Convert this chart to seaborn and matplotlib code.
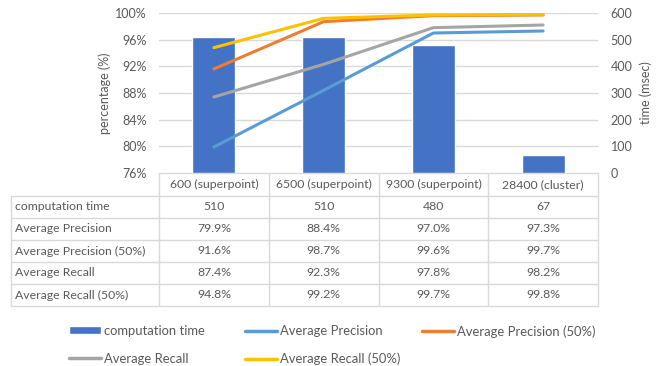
import matplotlib
matplotlib.use("Agg")
import matplotlib.pyplot as plt
from matplotlib.patches import Patch
from matplotlib.lines import Line2D
import seaborn as sns
import pandas as pd

categories = ["600 (superpoint)", "6500 (superpoint)", "9300 (superpoint)", "28400 (cluster)"]
computation_time = [510, 510, 480, 67]
avg_precision = [79.9, 88.4, 97.0, 97.3]
avg_precision_50 = [91.6, 98.7, 99.6, 99.7]
avg_recall = [87.4, 92.3, 97.8, 98.2]
avg_recall_50 = [94.8, 99.2, 99.7, 99.8]

series_names = ["Average Precision", "Average Precision (50%)", "Average Recall", "Average Recall (50%)"]
series_values = [avg_precision, avg_precision_50, avg_recall, avg_recall_50]
series_colors = ["#5B9BD5", "#ED7D31", "#A5A5A5", "#FFC000"]
bar_color = "#4472C4"
text_color = "#595959"
grid_color = "#D9D9D9"

sns.set_theme(style="white")
plt.rcParams["font.family"] = ["Lato", "DejaVu Sans"]

W, H = 661, 366
fig = plt.figure(figsize=(W / 100, H / 100), dpi=100)

# plot area in pixel terms
x0, x1, y_top, y_bot = 159, 598, 13, 173
ax_t = fig.add_axes([x0 / W, 1 - y_bot / H, (x1 - x0) / W, (y_bot - y_top) / H])
ax_p = ax_t.twinx()

# bars: computation time (right axis)
df_bar = pd.DataFrame({"category": categories, "time": computation_time})
sns.barplot(data=df_bar, x="category", y="time", color=bar_color, width=0.39,
            saturation=1, ax=ax_t, zorder=2)
ax_t.set_ylim(0, 600)
ax_t.set_yticks(range(0, 601, 100))
ax_t.yaxis.tick_right()
ax_t.yaxis.set_label_position("right")
ax_t.set_ylabel("time (msec)", color=text_color, fontsize=9, labelpad=5)
ax_t.grid(axis="y", color=grid_color, lw=1, zorder=0)
ax_t.set_axisbelow(True)

# lines: percentages (left axis)
df_lines = pd.DataFrame({
    "category": [c for _ in series_names for c in categories],
    "value": [v for vals in series_values for v in vals],
    "series": [n for n in series_names for _ in categories],
})
sns.lineplot(data=df_lines, x="category", y="value", hue="series",
             hue_order=series_names, palette=series_colors, lw=2.2,
             legend=False, ax=ax_p, sort=False)
ax_p.set_ylim(76, 100)
ax_p.set_yticks(range(76, 101, 4))
ax_p.set_yticklabels([f"{v}%" for v in range(76, 101, 4)])
ax_p.yaxis.tick_left()
ax_p.yaxis.set_label_position("left")
ax_p.set_ylabel("percentage (%)", color=text_color, fontsize=9, labelpad=3)

for a in (ax_t, ax_p):
    a.set_xlim(-0.5, len(categories) - 0.5)
    a.set_xlabel("")
    a.set_xticks([])
    a.tick_params(axis="y", length=0, pad=9, labelsize=9, labelcolor=text_color)
    for s in a.spines.values():
        s.set_visible(False)

# data table beneath the plot
tab = fig.add_axes([0, 0, 1, 1], zorder=-1)
tab.set_xlim(0, W)
tab.set_ylim(H, 0)
tab.axis("off")

col_edges = [x0 + (x1 - x0) * i / len(categories) for i in range(len(categories) + 1)]
left_edge = 11
row_edges = [y_bot, 196, 218, 240, 262, 284, 306]
row_labels = ["computation time"] + series_names
row_cells = [[str(v) for v in computation_time]] + [[f"{v:.1f}%" for v in vals] for vals in series_values]

line_kw = dict(color=grid_color, lw=1)
tab.plot([x0, x1], [row_edges[0], row_edges[0]], **line_kw)
for xe in col_edges:
    tab.plot([xe, xe], [row_edges[0], row_edges[-1]], **line_kw)
tab.plot([left_edge, left_edge], [row_edges[1], row_edges[-1]], **line_kw)
for ye in row_edges[1:]:
    tab.plot([left_edge, x1], [ye, ye], **line_kw)

for i, cat in enumerate(categories):
    cx = (col_edges[i] + col_edges[i + 1]) / 2
    tab.text(cx, (row_edges[0] + row_edges[1]) / 2, cat, ha="center", va="center",
             fontsize=8.8, color=text_color)
for r, (lab, cells) in enumerate(zip(row_labels, row_cells)):
    cy = (row_edges[r + 1] + row_edges[r + 2]) / 2
    tab.text(left_edge + 4, cy, lab, ha="left", va="center", fontsize=8.8, color=text_color)
    for i, val in enumerate(cells):
        cx = (col_edges[i] + col_edges[i + 1]) / 2
        tab.text(cx, cy, val, ha="center", va="center", fontsize=8.8, color=text_color)

# legend: three evenly spaced columns
legend_columns = [
    [Patch(facecolor=bar_color, label="computation time"),
     Line2D([], [], color=series_colors[2], lw=2.5, label=series_names[2])],
    [Line2D([], [], color=series_colors[0], lw=2.5, label=series_names[0]),
     Line2D([], [], color=series_colors[3], lw=2.5, label=series_names[3])],
    [Line2D([], [], color=series_colors[1], lw=2.5, label=series_names[1])],
]
col_x = [69, 245, 422]
for hs, lx in zip(legend_columns, col_x):
    fig.legend(handles=hs, loc="upper left", bbox_to_anchor=(lx / W, 1 - 325 / H),
               frameon=False, fontsize=9.4, labelcolor=text_color,
               handlelength=2.45, handleheight=0.55, handletextpad=0.2,
               labelspacing=1.2, borderpad=0, borderaxespad=0)

fig.savefig("out.png", dpi=100)
